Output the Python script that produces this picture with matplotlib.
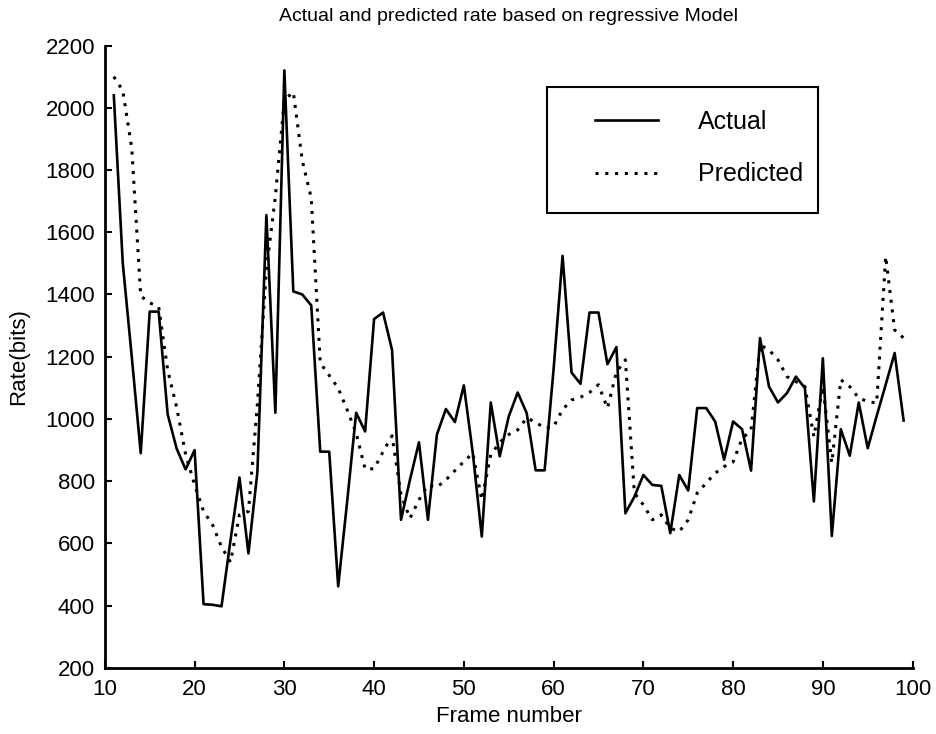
import matplotlib
matplotlib.use('Agg')
import matplotlib.pyplot as plt
from matplotlib.patches import Rectangle
import numpy as np

plt.rcParams['font.family'] = ['Liberation Sans', 'DejaVu Sans']

# frame numbers 11..99
frames = list(range(11, 100))

actual = [2040, 1500, 1200, 890, 1345, 1345, 1015, 905, 838, 900,
          405, 403, 398, 610, 812, 568, 830, 1655, 1020, 2120,
          1410, 1400, 1365, 895, 895, 462, 735, 1020, 960, 1321,
          1342, 1222, 676, 805, 925, 676, 950, 1032, 990, 1108,
          890, 622, 1053, 880, 1008, 1085, 1019, 835, 835, 1160,
          1524, 1149, 1113, 1342, 1342, 1176, 1231, 697, 750, 820,
          788, 785, 633, 820, 770, 1035, 1035, 992, 869, 992,
          967, 834, 1260, 1104, 1053, 1083, 1136, 1099, 735, 1195,
          624, 967, 882, 1053, 906, 1010, 1110, 1212, 995]

predicted = [2100, 2055, 1870, 1395, 1373, 1360, 1157, 1038, 886, 789,
             703, 660, 589, 540, 692, 703, 1049, 1480, 1715, 2025,
             2050, 1830, 1710, 1180, 1140, 1099, 1029, 955, 839, 840,
             895, 946, 756, 681, 740, 787, 781, 804, 834, 863,
             890, 740, 885, 925, 950, 965, 1003, 990, 970, 975,
             1030, 1061, 1070, 1085, 1110, 1035, 1150, 1190, 762, 724,
             676, 692, 649, 638, 676, 762, 794, 826, 847, 862,
             937, 964, 1238, 1222, 1190, 1136, 1120, 1104, 943, 1104,
             859, 1126, 1104, 1067, 1056, 1051, 1522, 1286, 1260]

xticks = np.arange(10, 101, 10)
yticks = np.arange(200, 2201, 200)

fig = plt.figure(figsize=(9.36, 7.34), dpi=100)
ax = fig.add_axes([0.112, 0.09, 0.863, 0.848])

ax.plot(frames, actual, color='black', linewidth=1.9, label='Actual')
ax.plot(frames, predicted, color='black', linewidth=2.2, linestyle=(0, (1, 2.2)), label='Predicted')

ax.set_xlim(10, 100)
ax.set_ylim(200, 2200)
ax.set_xticks(xticks)
ax.set_yticks(yticks)
ax.tick_params(direction='in', length=5, width=1.5, labelsize=16)
ax.tick_params(axis='x', pad=8)
ax.tick_params(axis='y', pad=7)
for s in ['top', 'right']:
    ax.spines[s].set_visible(False)
for s in ['left', 'bottom']:
    ax.spines[s].set_linewidth(2)

ax.set_title('Actual and predicted rate based on regressive Model', fontsize=14, pad=18)
ax.set_xlabel('Frame number', fontsize=16, labelpad=4)
ax.set_ylabel('Rate(bits)', fontsize=16, labelpad=12)

# legend box drawn separately so the padding can match
ax.add_patch(Rectangle((0.548, 0.731), 0.335, 0.203, transform=ax.transAxes,
                       facecolor='white', edgecolor='black', linewidth=1.5, zorder=3))
leg = ax.legend(loc='upper left', bbox_to_anchor=(0.607, 0.897), fontsize=18,
                frameon=False, borderpad=0, handlelength=2.5,
                handletextpad=1.6, labelspacing=1.15, borderaxespad=0)
leg.set_zorder(4)

plt.savefig('out.png', dpi=100)
